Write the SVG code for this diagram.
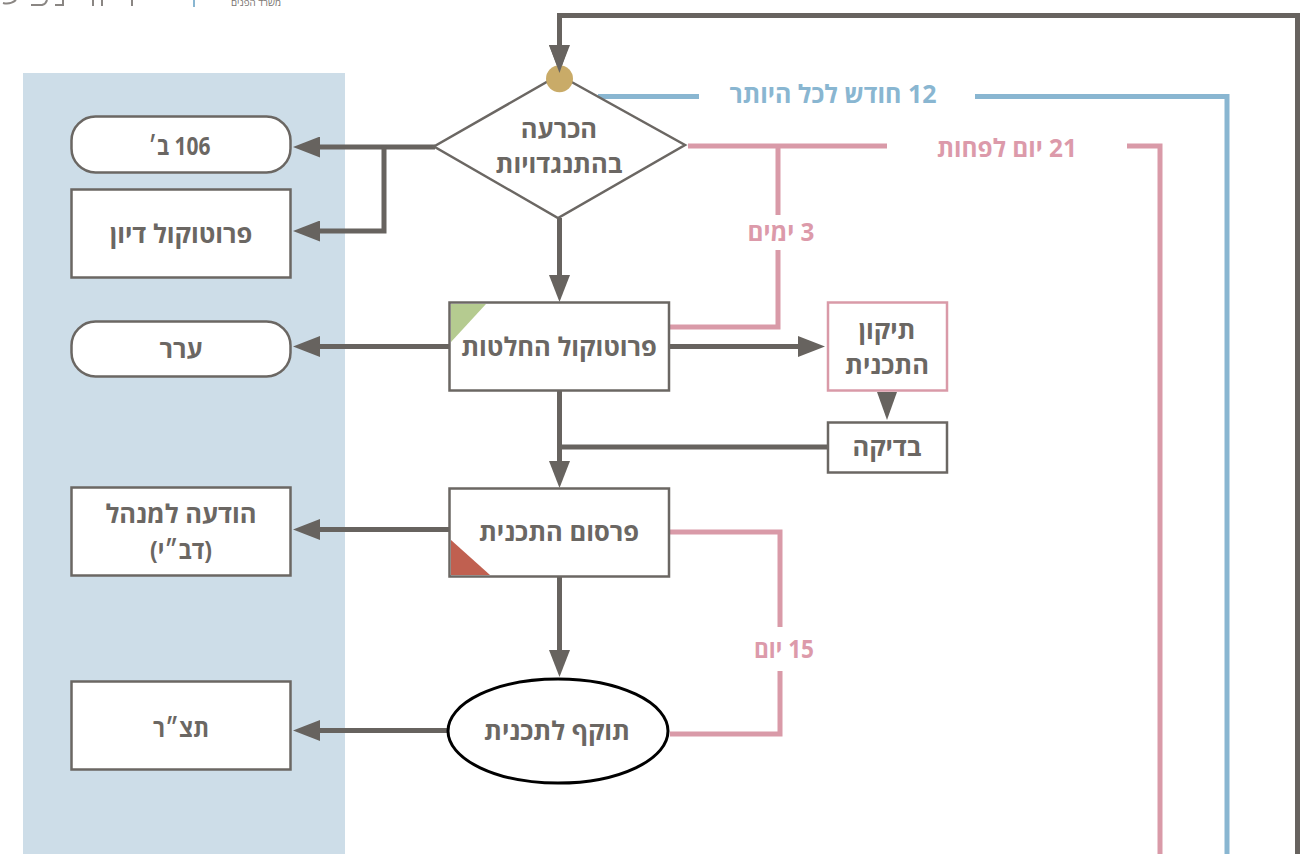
<svg xmlns="http://www.w3.org/2000/svg" width="1303" height="854" viewBox="0 0 1303 854">
<style>
text{font-family:"Open Sans","Liberation Sans",sans-serif;font-weight:700;direction:rtl;text-anchor:middle}
.t{font-size:25.500px;fill:#6b6763}
.n{fill:#fff;stroke:#6b6763;stroke-width:2.500}
.g{fill:none;stroke:#67635f;stroke-width:5}
.a{marker-end:url(#h)}
.p{fill:none;stroke:#d99aa8;stroke-width:5}
.b{fill:none;stroke:#89b6d1;stroke-width:5}
.lp{font-size:25px;fill:#dc9aaa}
.lb{font-size:25px;fill:#89b6d1}
</style>
<defs><marker id="h" markerUnits="userSpaceOnUse" markerWidth="28" markerHeight="21" refX="0" refY="10.5" orient="auto"><path d="M0,0L27,10.5L0,21Z" fill="#67635f"/></marker></defs>
<rect x="23" y="73" width="322" height="781" fill="#cddde8"/>
<g id="logo">
<path d="M3,3Q10,5 16,0M31,5H42Q46,4 47,0M55,5H63V0M93,0V6M102,0V6M132,0V6" fill="none" stroke="#8a8683" stroke-width="2"/>
<path d="M194,0V7" stroke="#89b6d1" stroke-width="2"/>
<text x="256" y="6" style="font-size:9.800px;font-weight:400;fill:#77736f">משרד הפנים</text>
</g>
<g id="connectors">
<path class="g a" d="M559.500,15.500V45"/>
<path class="g" d="M557,15.500H1297.500V854"/>
<path class="g a" d="M435,147H320"/>
<path class="g a" d="M384,147V231H320"/>
<path class="g a" d="M559.500,218V275"/>
<path class="g a" d="M449,346.500H320"/>
<path class="g a" d="M670,346.500H798"/>
<path class="g a" d="M559.500,390V461"/>
<path class="g" d="M828,447H560"/>
<path class="g a" d="M449,529.500H320"/>
<path class="g a" d="M559.500,576V650"/>
<path class="g a" d="M448,730.500H320"/>
<path d="M877,392H897L887,420Z" fill="#67635f"/>
<path class="b" d="M598,96.500H699M975,96.500H1227V854"/>
<path class="p" d="M688,146H887M1127,146H1160V854"/>
<path class="p" d="M778,146V215M778,250V327H670"/>
<path class="p" d="M670,532H780V627M780,671V734H670"/>
<text class="lb" x="833" y="103" textLength="207" lengthAdjust="spacingAndGlyphs">12 חודש לכל היותר</text>
<text class="lp" x="1007" y="157" textLength="140" lengthAdjust="spacingAndGlyphs">21 יום לפחות</text>
<text class="lp" x="781" y="241" textLength="67" lengthAdjust="spacingAndGlyphs">3 ימים</text>
<text class="lp" x="784" y="658" textLength="60" lengthAdjust="spacingAndGlyphs">15 יום</text>
</g>
<g id="n-objection"><path class="n" d="M559,75L685,145L558,218L434,146.500Z"/><circle cx="559.500" cy="78.700" r="13.500" fill="#c9ab68"/><path d="M549,45H569L559.500,73Z" fill="#67635f"/><text class="t" x="559" y="138">הכרעה</text><text class="t" x="559" y="173">בהתנגדויות</text></g>
<g id="n-106"><rect class="n" x="71.500" y="116.500" width="219" height="56" rx="24"/><text class="t" x="179.500" y="155" textLength="62" lengthAdjust="spacingAndGlyphs">106 ב׳</text></g>
<g id="n-protocol"><rect class="n" x="71.500" y="189.500" width="219" height="88"/><text class="t" x="181" y="243">פרוטוקול דיון</text></g>
<g id="n-appeal"><rect class="n" x="71.500" y="321.500" width="219" height="55" rx="24"/><text class="t" x="181" y="358">ערר</text></g>
<g id="n-notice"><rect class="n" x="71.500" y="487.500" width="219" height="88"/><text class="t" x="181" y="523">הודעה למנהל</text><text class="t" x="181" y="559" textLength="62" lengthAdjust="spacingAndGlyphs">(דב״י)</text></g>
<g id="n-taba"><rect class="n" x="71.500" y="681.500" width="219" height="88"/><text class="t" x="181" y="737" textLength="56" lengthAdjust="spacingAndGlyphs">תצ״ר</text></g>
<g id="n-decisions"><rect class="n" x="449.500" y="302.500" width="219.500" height="88"/><path d="M451,304H486L451,342Z" fill="#b5cb90"/><text class="t" x="559" y="356">פרוטוקול החלטות</text></g>
<g id="n-publish"><rect class="n" x="449.500" y="488.500" width="219.500" height="88"/><path d="M451,540L490,575H451Z" fill="#c06050"/><text class="t" x="559" y="541">פרסום התכנית</text></g>
<g id="n-effect"><ellipse cx="558" cy="731" rx="110" ry="52" fill="#fff" stroke="#000" stroke-width="3"/><text class="t" x="557" y="740">תוקף לתכנית</text></g>
<g id="n-fix"><rect x="828" y="302.500" width="119" height="88" fill="#fff" stroke="#d99aa8" stroke-width="2.500"/><text class="t" x="887" y="339">תיקון</text><text class="t" x="887" y="374">התכנית</text></g>
<g id="n-check"><rect class="n" x="828" y="422.500" width="119" height="50"/><text class="t" x="887" y="456">בדיקה</text></g>
</svg>
